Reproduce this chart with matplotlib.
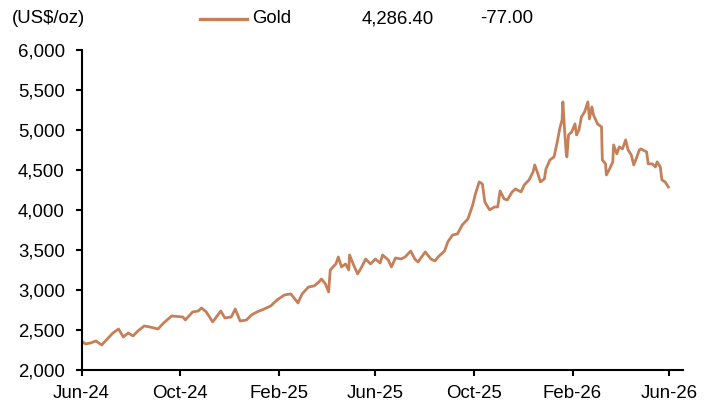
import numpy as np
import pandas as pd
import matplotlib
matplotlib.use("Agg")
import matplotlib.pyplot as plt
import matplotlib.dates as mdates

plt.rcParams['font.family'] = ['Liberation Sans', 'DejaVu Sans']

# gold price readings (US$/oz)
dates = ["2024-06-01", "2024-06-06", "2024-06-12", "2024-06-19", "2024-06-26",
         "2024-07-03", "2024-07-10", "2024-07-17", "2024-07-23", "2024-07-29",
         "2024-08-04", "2024-08-10", "2024-08-18", "2024-08-25", "2024-09-04",
         "2024-09-11", "2024-09-21", "2024-10-05", "2024-10-08", "2024-10-17",
         "2024-10-24", "2024-10-28", "2024-11-03", "2024-11-11", "2024-11-21",
         "2024-11-26", "2024-12-04", "2024-12-09", "2024-12-15", "2024-12-23",
         "2024-12-29", "2025-01-05", "2025-01-14", "2025-01-22", "2025-01-30",
         "2025-02-08", "2025-02-16", "2025-02-25", "2025-03-02", "2025-03-10",
         "2025-03-17", "2025-03-23", "2025-03-26", "2025-03-31", "2025-04-04",
         "2025-04-06", "2025-04-13", "2025-04-16", "2025-04-20", "2025-04-25",
         "2025-04-29", "2025-04-30", "2025-05-05", "2025-05-10", "2025-05-15",
         "2025-05-20", "2025-05-26", "2025-06-01", "2025-06-07", "2025-06-10",
         "2025-06-17", "2025-06-21", "2025-06-26", "2025-07-03", "2025-07-08",
         "2025-07-15", "2025-07-20", "2025-07-24", "2025-08-02", "2025-08-09",
         "2025-08-14", "2025-08-18", "2025-08-26", "2025-08-30", "2025-09-05",
         "2025-09-11", "2025-09-17", "2025-09-24", "2025-09-30", "2025-10-03",
         "2025-10-08", "2025-10-12", "2025-10-15", "2025-10-21", "2025-10-27",
         "2025-10-31", "2025-11-03", "2025-11-08", "2025-11-12", "2025-11-18",
         "2025-11-22", "2025-11-29", "2025-12-03", "2025-12-09", "2025-12-14",
         "2025-12-16", "2025-12-20", "2025-12-23", "2025-12-28", "2025-12-30",
         "2026-01-04", "2026-01-09", "2026-01-13", "2026-01-16", "2026-01-19",
         "2026-01-20", "2026-01-22", "2026-01-24", "2026-01-25", "2026-01-27",
         "2026-01-31", "2026-02-04", "2026-02-06", "2026-02-09", "2026-02-12",
         "2026-02-16", "2026-02-20", "2026-02-22", "2026-02-25", "2026-02-27",
         "2026-03-04", "2026-03-09", "2026-03-10", "2026-03-14", "2026-03-15",
         "2026-03-19", "2026-03-23", "2026-03-24", "2026-03-28", "2026-03-31",
         "2026-04-04", "2026-04-08", "2026-04-11", "2026-04-15", "2026-04-18",
         "2026-04-21", "2026-04-25", "2026-04-27", "2026-05-04", "2026-05-06",
         "2026-05-11", "2026-05-15", "2026-05-17", "2026-05-21", "2026-05-23",
         "2026-05-27", "2026-05-31"]
gold = [2362, 2325, 2337, 2362, 2312,
        2387, 2462, 2512, 2412, 2462,
        2425, 2487, 2550, 2537, 2512,
        2587, 2675, 2662, 2625, 2725,
        2737, 2775, 2725, 2600, 2737,
        2650, 2662, 2762, 2612, 2625,
        2687, 2725, 2762, 2800, 2875,
        2937, 2950, 2837, 2950, 3037,
        3050, 3100, 3137, 3075, 2975,
        3250, 3325, 3412, 3287, 3325,
        3250, 3437, 3312, 3200, 3287,
        3387, 3325, 3387, 3337, 3437,
        3375, 3287, 3400, 3387, 3412,
        3487, 3387, 3350, 3475, 3387,
        3362, 3412, 3487, 3600, 3687,
        3700, 3812, 3887, 4062, 4187,
        4350, 4325, 4100, 4000, 4037,
        4037, 4237, 4137, 4125, 4225,
        4262, 4225, 4312, 4375, 4475,
        4562, 4450, 4350, 4387, 4512,
        4625, 4662, 4850, 5012, 5125,
        5350, 5012, 4725, 4662, 4937,
        4975, 5075, 4937, 5000, 5162,
        5225, 5350, 5137, 5287, 5187,
        5075, 5037, 4625, 4575, 4437,
        4512, 4600, 4812, 4700, 4787,
        4762, 4875, 4750, 4687, 4562,
        4637, 4750, 4762, 4725, 4575,
        4575, 4537, 4600, 4537, 4375,
        4350, 4286.40]

last_value = "4,286.40"
change = "-77.00"
tick_dates = ["2024-06-01", "2024-10-01", "2025-02-01", "2025-06-01",
              "2025-10-01", "2026-02-01", "2026-06-01"]

t = pd.to_datetime(dates)
color = "#C5805A"

fig = plt.figure(figsize=(7.15, 4.12), dpi=100)
ax = fig.add_axes([0.114, 0.102, 0.841, 0.777])
ax.plot(t, gold, color=color, lw=2.0)

ax.set_ylim(2000, 6000)
ax.set_yticks(np.arange(2000, 6001, 500))
ax.yaxis.set_major_formatter(matplotlib.ticker.FuncFormatter(lambda v, p: "{:,.0f}".format(v)))
ax.set_xlim(pd.Timestamp("2024-06-01"), pd.Timestamp("2026-06-18"))
ax.set_xticks(pd.to_datetime(tick_dates))
ax.xaxis.set_major_formatter(mdates.DateFormatter("%b-%y"))

for s in ["top", "right"]:
    ax.spines[s].set_visible(False)
for s in ["left", "bottom"]:
    ax.spines[s].set_linewidth(1.5)
ax.tick_params(direction="out", length=4, width=1.5, labelsize=13.4, pad=7)
ax.tick_params(axis="y", pad=8)

fig.text(0.017, 0.955, "(US$/oz)", fontsize=13.4, va="center")
fig.lines.append(plt.Line2D([0.28, 0.346], [0.955, 0.955], color=color, lw=2.4,
                            transform=fig.transFigure))
fig.text(0.353, 0.955, "Gold", fontsize=13.4, va="center")
fig.text(0.506, 0.955, last_value, fontsize=13.4, va="center")
fig.text(0.672, 0.955, change, fontsize=13.4, va="center")

plt.savefig("out.png", dpi=100)
